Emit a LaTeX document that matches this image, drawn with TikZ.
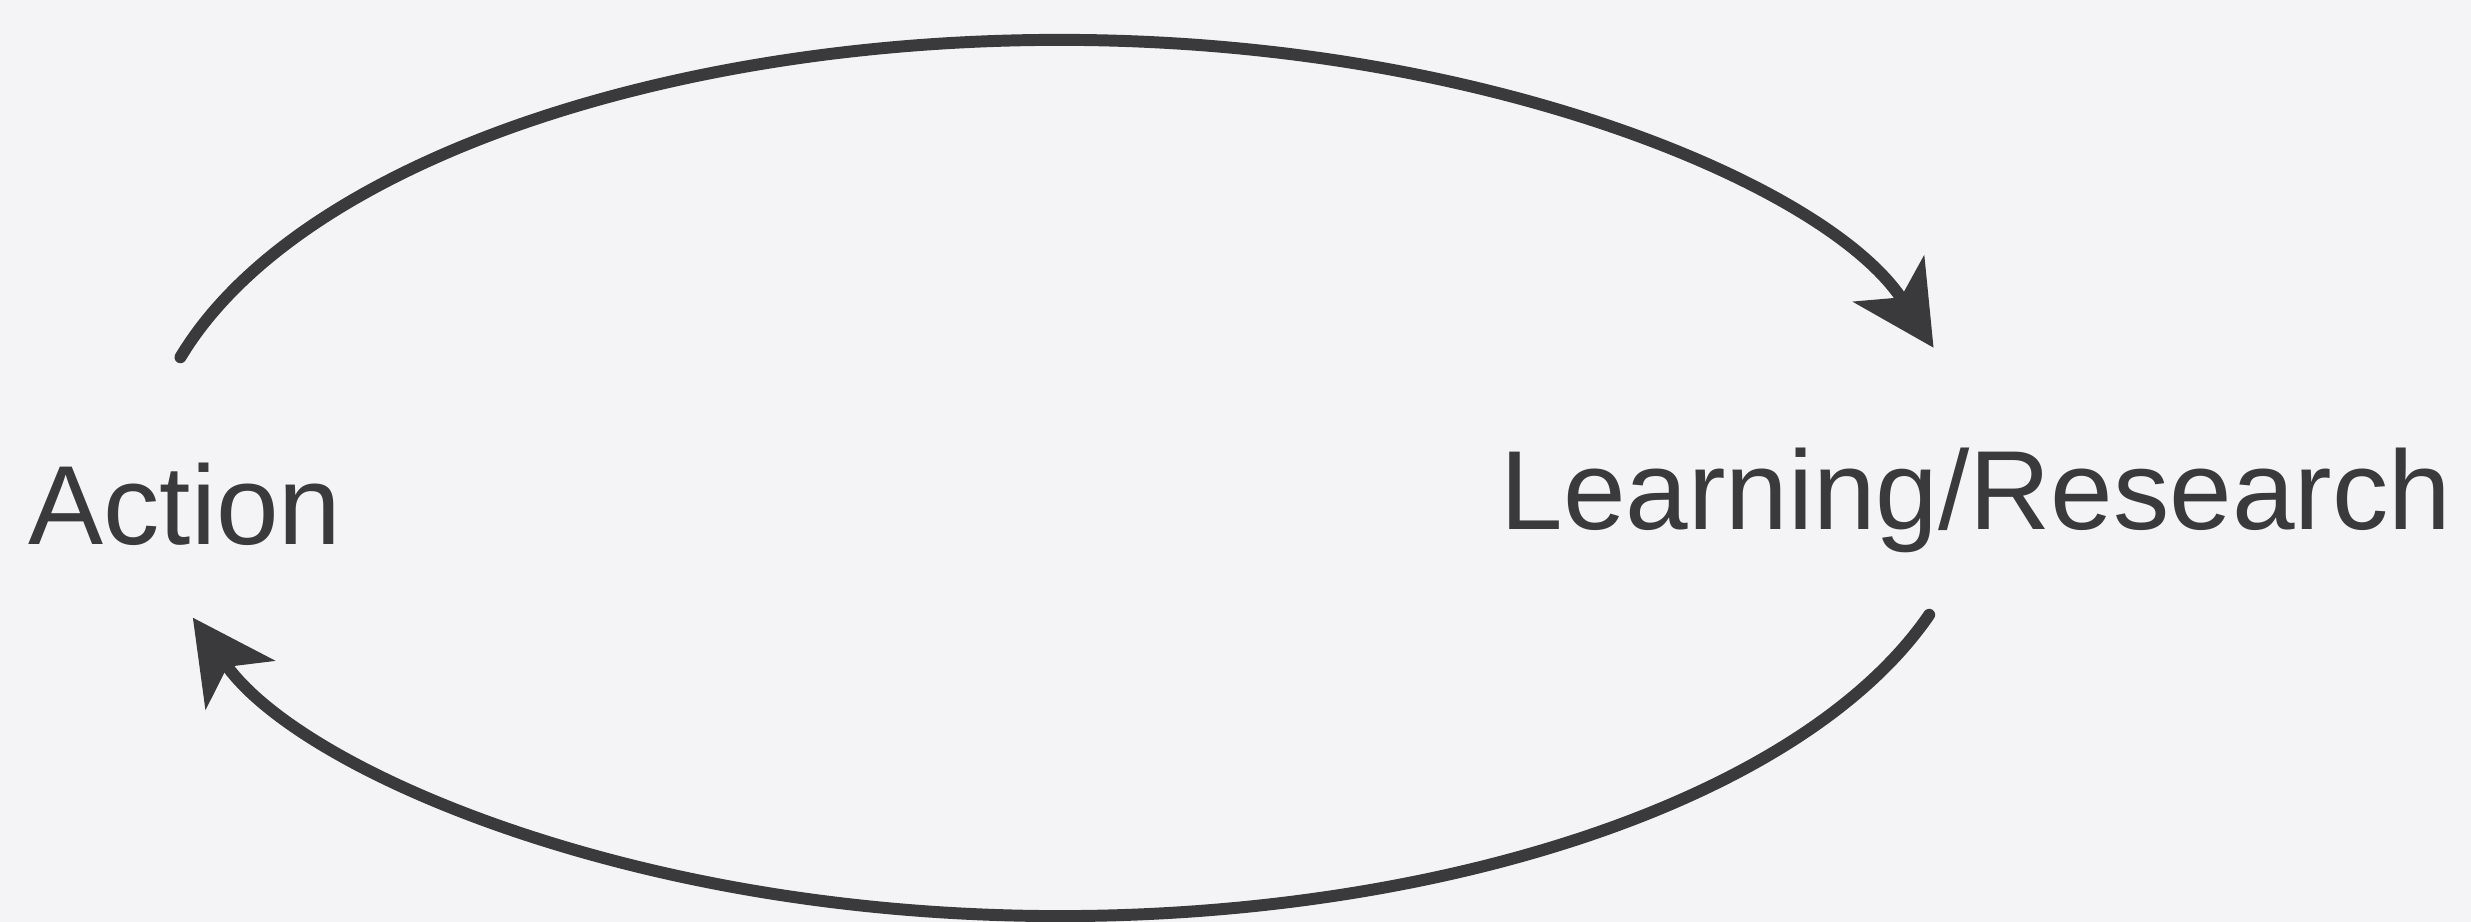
\documentclass[tikz,border=0pt]{standalone}
\usepackage{fontspec}
\setmainfont{Liberation Sans}
\usetikzlibrary{arrows.meta}
\definecolor{ink}{RGB}{58,58,60}
\definecolor{paper}{RGB}{244,244,247}
\tikzset{
  label/.style={inner sep=0pt, text=ink, font=\fontsize{32pt}{38pt}\selectfont},
  loop/.style={draw=ink, line width=3.4pt, line cap=round,
    -{Stealth[length=8.2mm, width=8.4mm, inset=2.2mm]}}
}
\begin{document}
\begin{tikzpicture}
\fill[paper] (0,0) rectangle (24.71,9.22);
\useasboundingbox (0,0) rectangle (24.71,9.22);
\node[label, anchor=base west] (action) at (0.28,3.77) {Action};
\node[label, anchor=base west] (learn) at (15.00,3.92) {Learning/Research};
\coordinate (c) at (10.60,4.44);
\path (c) ++(164:9.15 and 4.38) coordinate (ts);
\path (c) ++(341.8:9.15 and 4.38) coordinate (bs);
\draw[loop] (ts) arc[start angle=164, end angle=17.3, x radius=9.15, y radius=4.38];
\draw[loop] (bs) arc[start angle=341.8, end angle=198.6, x radius=9.15, y radius=4.38];
\end{tikzpicture}
\end{document}
